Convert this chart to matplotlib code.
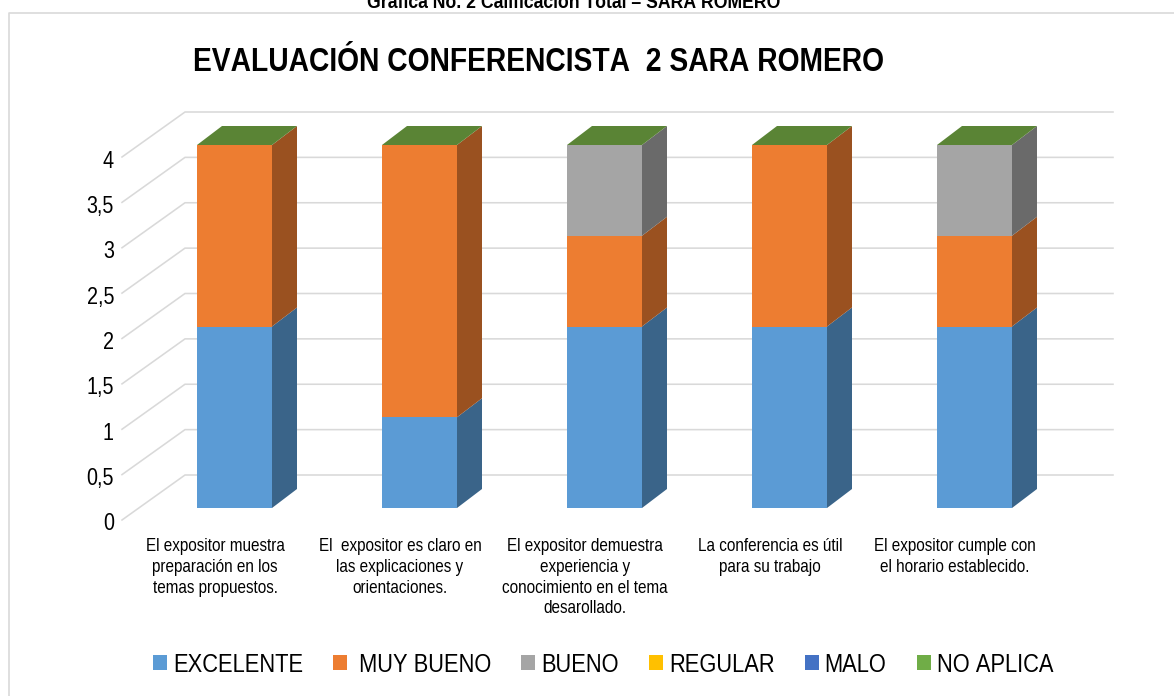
import matplotlib
matplotlib.use("Agg")
import matplotlib.pyplot as plt
import numpy as np
from matplotlib.patches import Polygon, Patch
from matplotlib.lines import Line2D
from matplotlib import font_manager as fm

W, H = 1174, 696
DPI = 100


def condensed_family(base="Liberation Sans", sx=0.83, new="Liberation Cond"):
    """Build a horizontally narrowed copy of the installed family; fall back to the base."""
    try:
        from fontTools.ttLib import TTFont
        from fontTools.ttLib.tables.ttProgram import Program
        for weight, style, out in [("normal", "Regular", "cond-r.ttf"), ("bold", "Bold", "cond-b.ttf")]:
            path = fm.findfont(fm.FontProperties(family=base, weight=weight))
            f = TTFont(path)
            for tag in ["hdmx", "VDMX", "LTSH", "fpgm", "prep", "cvt ", "kern", "GPOS", "GSUB",
                        "GDEF", "DSIG", "gasp", "FFTM", "cvar"]:
                if tag in f:
                    del f[tag]
            glyf, hmtx = f["glyf"], f["hmtx"]
            for name in f.getGlyphOrder():
                g = glyf[name]
                if g.isComposite():
                    for c in g.components:
                        c.x = int(round(c.x * sx))
                elif g.numberOfContours > 0:
                    g.coordinates.scale((sx, 1))
                    g.program = Program()
                    g.program.fromBytecode(b"")
                adv, lsb = hmtx.metrics[name]
                hmtx.metrics[name] = (int(round(adv * sx)), int(round(lsb * sx)))
            for name in f.getGlyphOrder():
                glyf[name].recalcBounds(glyf)
            nm = f["name"]
            for rec in list(nm.names):
                if rec.nameID in (1, 16):
                    rec.string = new
                elif rec.nameID == 4:
                    rec.string = f"{new} {style}"
                elif rec.nameID == 6:
                    rec.string = f"{new.replace(' ', '')}-{style}"
                elif rec.nameID == 3:
                    rec.string = f"{new}-{style}-unique"
            f.save(out)
            fm.fontManager.addfont(out)
        return new
    except Exception as e:
        print("condense failed", e)
        return base


FONT = condensed_family()
plt.rcParams['font.family'] = [FONT, 'DejaVu Sans']

categories = [
    "El expositor muestra\npreparación en los\ntemas propuestos.",
    "El  expositor es claro en\nlas explicaciones y\norientaciones.",
    "El expositor demuestra\nexperiencia y\nconocimiento en el tema\ndesarollado.",
    "La conferencia es útil\npara su trabajo",
    "El expositor cumple con\nel horario establecido.",
]
series_names = ["EXCELENTE", " MUY BUENO", "BUENO", "REGULAR", "MALO", "NO APLICA"]
excelente = [2, 1, 2, 2, 2]
muy_bueno = [2, 3, 1, 2, 1]
bueno = [0, 0, 1, 0, 1]
regular = [0, 0, 0, 0, 0]
malo = [0, 0, 0, 0, 0]
no_aplica = [0, 0, 0, 0, 0]
series = [excelente, muy_bueno, bueno, regular, malo, no_aplica]
y_ticks = [0, 0.5, 1, 1.5, 2, 2.5, 3, 3.5, 4]
y_labels = ["0", "0,5", "1", "1,5", "2", "2,5", "3", "3,5", "4"]

front = ["#5B9BD5", "#ED7D31", "#A5A5A5", "#FFC000", "#4472C4", "#70AD47"]
side = ["#3A6489", "#9A5120", "#6A6A6A", "#A57C00", "#2C4A7F", "#5B8436"]
top_col = "#5A8435"
grid_col = "#D9D9D9"

# pixel geometry of the 3-D projection
PX_CAT = 185.0
PX_UNIT = 90.75
X0_PX = 234.5      # centre of first bar
Y0_PX = 508.0      # value 0 at bars' front
BAR_PX = 75.0
DEPTH_X = 25 / PX_CAT
DEPTH_Y = 19 / PX_UNIT
AX_L, AX_R, AX_T, AX_B = 120, 1120, 100, 530

fig = plt.figure(figsize=(W / DPI, H / DPI), dpi=DPI, facecolor="white")
ax = fig.add_axes([AX_L / W, 1 - AX_B / H, (AX_R - AX_L) / W, (AX_B - AX_T) / H])
ax.set_xlim((AX_L - X0_PX) / PX_CAT, (AX_R - X0_PX) / PX_CAT)
ax.set_ylim((Y0_PX - AX_B) / PX_UNIT, (Y0_PX - AX_T) / PX_UNIT)
ax.patch.set_visible(False)
for s in ax.spines.values():
    s.set_visible(False)

# floor / wall offsets
front_y = -12 / PX_UNIT
back_y = 33 / PX_UNIT
front_x = (122 - X0_PX) / PX_CAT
back_x = (185 - X0_PX) / PX_CAT
right_x = (1113 - X0_PX) / PX_CAT
for v in y_ticks:
    ax.plot([front_x, back_x, right_x], [v + front_y, v + back_y, v + back_y],
            color=grid_col, lw=1.15, zorder=1, clip_on=False, solid_joinstyle="miter")

x = np.arange(len(categories))
bw = BAR_PX / PX_CAT
bottom = np.zeros(len(categories))
for k, vals in enumerate(series):
    vals = np.array(vals, dtype=float)
    mask = vals > 0
    ax.bar(x[mask], vals[mask], width=bw, bottom=bottom[mask], color=front[k], zorder=3,
           edgecolor="none")
    for xi, b, v in zip(x[mask], bottom[mask], vals[mask]):
        r = xi + bw / 2
        ax.add_patch(Polygon([(r, b), (r + DEPTH_X, b + DEPTH_Y),
                              (r + DEPTH_X, b + v + DEPTH_Y), (r, b + v)],
                             closed=True, facecolor=side[k], edgecolor="none", zorder=3))
    bottom += vals

for xi, t in zip(x, bottom):
    l, r = xi - bw / 2, xi + bw / 2
    ax.add_patch(Polygon([(l, t), (r, t), (r + DEPTH_X, t + DEPTH_Y), (l + DEPTH_X, t + DEPTH_Y)],
                         closed=True, facecolor=top_col, edgecolor="none", zorder=4))

# axis labels sit on the front plane of the floor
ax.set_xticks(x - 19.5 / PX_CAT)
ax.set_xticklabels(categories, fontsize=13.2, color="#000000", linespacing=1.29, va="top")
ax.tick_params(axis="x", length=0, pad=(538 - AX_B) * 72 / DPI)
ax.set_yticks(np.array(y_ticks) + front_y - 2 / PX_UNIT)
ax.set_yticklabels(y_labels, fontsize=17.1, color="#000000")
ax.tick_params(axis="y", length=0, pad=(AX_L - 114) * 72 / DPI)

# Titles
fig.text(574 / W, 1 - 8 / H, "Gráfica No. 2 Calificación Total – SARA ROMERO",
         ha="center", va="baseline", fontsize=15.3, fontweight="bold", color="#000000")
fig.text(538.5 / W, 1 - 71 / H, "EVALUACIÓN CONFERENCISTA  2 SARA ROMERO",
         ha="center", va="baseline", fontsize=24.5, fontweight="bold", color="#000000")

# Frame
fig.add_artist(Line2D([9 / W, 9 / W, 1], [0, 1 - 12.5 / H, 1 - 12.5 / H],
                      color="#D9D9D9", lw=1.2))

# Legend
handles = [Patch(facecolor=c, edgecolor="none") for c in front]
fs = 19
leg = fig.legend(handles, series_names, loc="center", bbox_to_anchor=(603 / W, 1 - 665 / H),
                 ncol=6, frameon=False, prop={"size": fs},
                 handlelength=14 * 72 / DPI / fs, handleheight=14 * 72 / DPI / fs,
                 handletextpad=6 * 72 / DPI / fs, columnspacing=30 * 72 / DPI / fs,
                 borderpad=0, borderaxespad=0)

fig.savefig("out.png", dpi=DPI, facecolor="white")
